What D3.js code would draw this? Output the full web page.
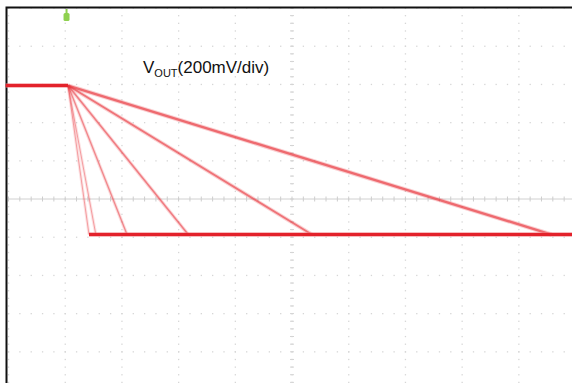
<!DOCTYPE html>
<html><head><meta charset="utf-8">
<script src="https://cdn.jsdelivr.net/npm/d3@7"></script>
<style>html,body{margin:0;padding:0;background:#fff;}svg{display:block;}</style>
</head><body>
<svg id="c" width="572" height="383"></svg>
<script>
// Values in screen divisions (time div, voltage div), centre of screen = (0,0)
const highLevel = 2.97;          // Vout before the step (div)
const lowLevel = -0.93;          // Vout after the step (div)
const stepStart = -3.95;         // time where the ramps begin (div)
const rampEnds = [-3.58, -3.46, -2.91, -1.83, 0.35, 4.58];  // time where each ramp reaches the low level (div)
const rampWeights = [1.0, 1.0, 1.3, 1.6, 1.9, 2.4];
const rampOpacity = [0.4, 0.4, 0.5, 0.55, 0.6, 0.65];
const xDivs = d3.range(-5, 6);
const yDivs = d3.range(-5, 6);
const label = {main: "V", sub: "OUT", rest: "(200mV/div)"};

const svg = d3.select("#c");
const x = d3.scaleLinear().domain([-5, 5]).range([8.5, 575.5]);
const y = d3.scaleLinear().domain([-5, 5]).range([390, 8]);

const grid = svg.append("g");
const dotCol = "#d6d6d6";
// dotted grid: dots every 1/5 division along each major line
const sub = d3.range(-25, 26).map(d => d / 5);
xDivs.forEach(xd => {
  sub.forEach(yd => grid.append("rect").attr("x", x(xd) - 0.6).attr("y", y(yd) - 0.6)
    .attr("width", 1.3).attr("height", 1.3).attr("fill", dotCol));
});
yDivs.filter(d => d !== 0).forEach(yd => {
  sub.forEach(xd => grid.append("rect").attr("x", x(xd) - 0.6).attr("y", y(yd) - 0.6)
    .attr("width", 1.3).attr("height", 1.3).attr("fill", dotCol));
});
// centre horizontal axis with minor ticks; vertical centre gets ticks only
grid.append("line").attr("x1", x(-5)).attr("x2", x(5)).attr("y1", y(0)).attr("y2", y(0))
  .attr("stroke", "#d0d0d0").attr("stroke-width", 1);
sub.forEach(d => {
  grid.append("line").attr("x1", x(d)).attr("x2", x(d)).attr("y1", y(0) - 2.5).attr("y2", y(0) + 2.5)
    .attr("stroke", "#cdcdcd").attr("stroke-width", 1);
  grid.append("line").attr("y1", y(d)).attr("y2", y(d)).attr("x1", x(0) - 2).attr("x2", x(0) + 2)
    .attr("stroke", "#d4d4d4").attr("stroke-width", 1);
});

// border (top and left)
svg.append("path").attr("d", `M6.5,383 V7.5 H572`).attr("fill", "none")
  .attr("stroke", "#111").attr("stroke-width", 2);

// trigger marker
const tx = x(stepStart) - 1.5;
svg.append("rect").attr("x", tx - 3).attr("y", 13).attr("width", 6).attr("height", 8)
  .attr("fill", "#8fd14f").attr("rx", 1.5);
svg.append("rect").attr("x", tx - 1).attr("y", 9).attr("width", 2).attr("height", 5)
  .attr("fill", "#8fd14f");

const line = d3.line().x(d => x(d[0])).y(d => y(d[1]));
const tr = svg.append("g");
// ramps
rampEnds.forEach((e, i) => {
  tr.append("path").attr("d", line([[stepStart, highLevel], [e, lowLevel]]))
    .attr("fill", "none").attr("stroke", "#e8323a").attr("stroke-opacity", rampOpacity[i] * 0.35)
    .attr("stroke-width", rampWeights[i] + 2);
  tr.append("path").attr("d", line([[stepStart, highLevel], [e, lowLevel]]))
    .attr("fill", "none").attr("stroke", "#e8323a").attr("stroke-opacity", rampOpacity[i])
    .attr("stroke-width", rampWeights[i]);
});
// high level
tr.append("path").attr("d", line([[-5.05, highLevel], [stepStart, highLevel]]))
  .attr("fill", "none").attr("stroke", "#f07a80").attr("stroke-width", 5).attr("stroke-opacity", 0.5);
tr.append("path").attr("d", line([[-5.05, highLevel], [stepStart, highLevel]]))
  .attr("fill", "none").attr("stroke", "#e3222b").attr("stroke-width", 3);
// low level
tr.append("path").attr("d", line([[rampEnds[0], lowLevel], [5.1, lowLevel]]))
  .attr("fill", "none").attr("stroke", "#f07a80").attr("stroke-width", 5).attr("stroke-opacity", 0.5);
tr.append("path").attr("d", line([[rampEnds[0], lowLevel], [5.1, lowLevel]]))
  .attr("fill", "none").attr("stroke", "#e3222b").attr("stroke-width", 3);

// label
const t = svg.append("text").attr("x", 143).attr("y", 73)
  .attr("font-family", "Liberation Sans, Arial, sans-serif").attr("font-size", 17).attr("fill", "#111");
t.append("tspan").text(label.main);
t.append("tspan").attr("font-size", 11).attr("dy", 4).text(label.sub);
t.append("tspan").attr("dy", -4).text(label.rest);
</script>
</body></html>
